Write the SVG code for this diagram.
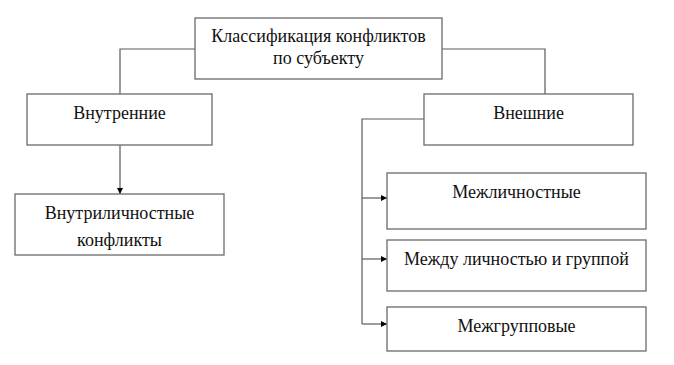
<svg xmlns="http://www.w3.org/2000/svg" width="674" height="365" viewBox="0 0 674 365">
<style>
.box{fill:#fff;stroke:#6a6a6a;stroke-width:1.3}
.t{font-family:"Liberation Serif","Times New Roman","DejaVu Serif",serif;font-size:18px;fill:#111;text-anchor:middle}
.c{fill:none;stroke:#5a5a5a;stroke-width:1.2}
</style>
<defs>
<marker id="ah" viewBox="0 0 10 10" refX="10" refY="5" markerWidth="6" markerHeight="6" markerUnits="userSpaceOnUse" orient="auto">
<path d="M0,0 L10,5 L0,10 Z" fill="#000"/>
</marker>
</defs>
<rect width="674" height="365" fill="#fff"/>
<g id="connectors">
<path class="c" d="M195,49 H120 V94"/>
<path class="c" d="M442,49 H545 V94"/>
<path class="c" d="M120,145 V194" marker-end="url(#ah)"/>
<path class="c" d="M424,119 H362 V324"/>
<path class="c" d="M362,198 H387" marker-end="url(#ah)"/>
<path class="c" d="M362,259 H387" marker-end="url(#ah)"/>
<path class="c" d="M362,324 H387" marker-end="url(#ah)"/>
</g>
<g id="root">
<rect class="box" x="195" y="18" width="247" height="61"/>
<text class="t" x="318.5" y="42">Классификация конфликтов</text>
<text class="t" x="318.5" y="64">по субъекту</text>
</g>
<g id="internal">
<rect class="box" x="27" y="94" width="185" height="51"/>
<text class="t" x="119.5" y="119">Внутренние</text>
</g>
<g id="external">
<rect class="box" x="424" y="94" width="209" height="51"/>
<text class="t" x="528.5" y="119">Внешние</text>
</g>
<g id="intrapersonal">
<rect class="box" x="15" y="194" width="209" height="61"/>
<text class="t" x="119.5" y="219">Внутриличностные</text>
<text class="t" x="119.5" y="246">конфликты</text>
</g>
<g id="interpersonal">
<rect class="box" x="387" y="173" width="259" height="56"/>
<text class="t" x="516.5" y="198">Межличностные</text>
</g>
<g id="person-group">
<rect class="box" x="387" y="240" width="259" height="51"/>
<text class="t" x="516.5" y="265">Между личностью и группой</text>
</g>
<g id="intergroup">
<rect class="box" x="387" y="307" width="259" height="44"/>
<text class="t" x="516.5" y="332">Межгрупповые</text>
</g>
</svg>
